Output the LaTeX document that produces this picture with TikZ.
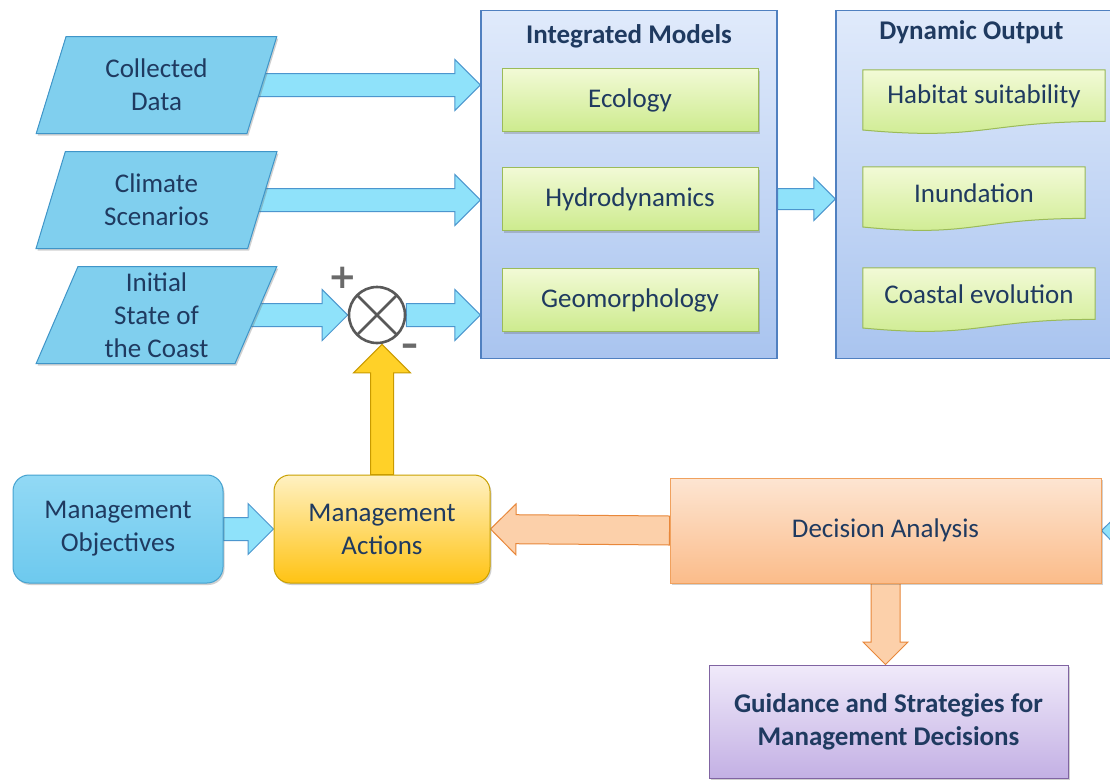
\documentclass[tikz,border=0pt]{standalone}
\usepackage{fontspec}
\setmainfont{Carlito}
\newfontfamily\symfont{DejaVu Sans}
\usepackage{tikz}
\usetikzlibrary{shapes.geometric,shapes.arrows,shadows,calc,positioning,backgrounds}
\definecolor{navy}{HTML}{1F3A60}
\definecolor{paraline}{HTML}{3F95C8}
\definecolor{parafill}{HTML}{80CFEE}
\definecolor{boxline}{HTML}{5080C0}
\definecolor{boxtop}{HTML}{E0EAFB}
\definecolor{boxbot}{HTML}{A9C4EF}
\definecolor{modline}{HTML}{9BBB59}
\definecolor{modtop}{HTML}{F2FAD6}
\definecolor{modbot}{HTML}{CDEB8E}
\definecolor{arrline}{HTML}{4C96CE}
\definecolor{arrfill}{HTML}{8FE2FA}
\definecolor{sumline}{HTML}{595959}
\definecolor{objline}{HTML}{45A2D0}
\definecolor{objtop}{HTML}{92D9F5}
\definecolor{objbot}{HTML}{6DC9EE}
\definecolor{actline}{HTML}{C9A000}
\definecolor{acttop}{HTML}{FFF1C2}
\definecolor{actbot}{HTML}{FFC313}
\definecolor{decline}{HTML}{F0A15E}
\definecolor{dectop}{HTML}{FDE5D2}
\definecolor{decbot}{HTML}{FBBC8A}
\definecolor{guidline}{HTML}{8064A2}
\definecolor{guidtop}{HTML}{F0EAFA}
\definecolor{guidbot}{HTML}{C3B0E4}
\definecolor{orline}{HTML}{E8873A}
\definecolor{orfill}{HTML}{FCD0AA}
\definecolor{yelline}{HTML}{C99A00}
\definecolor{yelfill}{HTML}{FFD128}
\definecolor{pmgray}{HTML}{6A6A6A}

% fat arrow from one point to another
\newcommand{\blockarrow}[3][]{%
  \path let \p1=#2, \p2=#3,
    \n1={atan2(\y2-\y1,\x2-\x1)}, \n2={veclen(\x2-\x1,\y2-\y1)} in
    node[fatarrow,#1,minimum height=\n2,anchor=tail,rotate=\n1] at (\p1) {};}

\begin{document}
\begin{tikzpicture}[x=1pt,y=-1pt,
    font=\fontsize{27}{33}\selectfont,
    every node/.style={text=navy,align=center},
    shadowed/.style={drop shadow={shadow xshift=1.5pt,shadow yshift=-2pt,opacity=.3,fill=black!60}},
    datain/.style={trapezium,trapezium left angle=72,trapezium right angle=108,
      trapezium stretches=true,minimum width=241pt,minimum height=97pt,inner sep=0pt,
      draw=paraline,line width=1pt,fill=parafill,shadowed},
    bigbox/.style={rectangle,draw=boxline,line width=1.2pt,top color=boxtop,bottom color=boxbot,
      minimum height=348pt,inner sep=0pt},
    model/.style={rectangle,draw=modline,line width=1pt,top color=modtop,bottom color=modbot,
      minimum width=256pt,minimum height=63pt,shadowed},
    wave/.style={rectangle,minimum height=64pt,inner sep=0pt},
    title/.style={font=\fontsize{27}{33}\selectfont\bfseries},
    sign/.style={text=pmgray,font=\symfont\fontsize{34}{34}\selectfont\bfseries},
    fatarrow/.style={single arrow,single arrow tip angle=90,single arrow head extend=14pt,
      inner sep=0pt,inner ysep=11pt,outer sep=0pt,line width=1pt},
    bluearrow/.style={draw=arrline,fill=arrfill},
    orangearrow/.style={draw=orline,fill=orfill,inner ysep=14pt,single arrow head extend=11pt},
    yellowarrow/.style={draw=yelline,fill=yelfill,single arrow head extend=17pt},
    block/.style={rectangle,line width=1pt,inner sep=0pt,shadowed}]

    \useasboundingbox (0,0) rectangle (1110,782);

    % inputs
    \node[datain] (data) at (156.5,85) {Collected\\Data};
    \node[datain] (climate) at (156.5,200) {Climate\\Scenarios};
    \node[datain] (initial) at (156.5,315) {Initial\\State of\\the Coast};

    % summing junction
    \node[circle,draw=sumline,line width=2.6pt,fill=white,minimum size=56pt,inner sep=0pt,
      path picture={\draw[sumline,line width=2.6pt]
        (path picture bounding box.north west) -- (path picture bounding box.south east)
        (path picture bounding box.north east) -- (path picture bounding box.south west);}]
      (sum) at (377,315) {};
    \node[sign] (plus) at ([xshift=-34pt,yshift=37pt]sum.center) {+};
    \node[sign] (minus) at ([xshift=33pt,yshift=-35pt]sum.center) {–};

    % model boxes
    \node[bigbox,minimum width=296pt] (models) at (629,184.5) {};
    \node[title] (modtitle) at ([yshift=-26pt]models.north) {Integrated Models};
    \node[model] (ecology) at (630,100) {Ecology};
    \node[model] (hydro) at (630,199) {Hydrodynamics};
    \node[model] (geo) at (630,300) {Geomorphology};

    \node[bigbox,minimum width=304pt] (dynout) at (988,184.5) {};
    \node[title] (dyntitle) at ([xshift=136pt,yshift=-22pt]dynout.north west) {Dynamic Output};
    \node[wave,minimum width=242pt] (habitat) at (984,102) {};
    \node[wave,minimum width=222pt] (inundation) at (974,199) {};
    \node[wave,minimum width=232pt] (coastal) at (979,300) {};
    \foreach \n/\t in {habitat/Habitat suitability,inundation/Inundation,coastal/Coastal evolution}
    {
      \fill[black,opacity=.3,xshift=1.5pt,yshift=-2pt] (\n.north west) -- (\n.north east)
        -- ([yshift=12.8pt]\n.south east) .. controls ([yshift=12.8pt]\n.south) and ([yshift=-6.8pt]\n.south)
        .. ([yshift=4.2pt]\n.south west) -- cycle;
      \shade[top color=modtop,bottom color=modbot,draw=modline,line width=1pt] (\n.north west) -- (\n.north east)
        -- ([yshift=12.8pt]\n.south east) .. controls ([yshift=12.8pt]\n.south) and ([yshift=-6.8pt]\n.south)
        .. ([yshift=4.2pt]\n.south west) -- cycle;
      \node at ([yshift=6pt]\n.center) {\t};
    }

    % management and decisions
    \node[block,rounded corners=16pt,draw=objline,top color=objtop,bottom color=objbot,
      minimum width=210pt,minimum height=108pt] (mobj) at (118,529) {Management\\Objectives};
    \node[block,rounded corners=16pt,draw=actline,top color=acttop,bottom color=actbot,
      minimum width=216pt,minimum height=108pt] (mact) at (382,529) {Management\\Actions};
    \node[block,draw=decline,top color=dectop,bottom color=decbot,
      minimum width=431pt,minimum height=105pt] (dec) at (885.5,530.5) {Decision Analysis};
    \node[block,draw=guidline,top color=guidtop,bottom color=guidbot,font=\fontsize{27}{33}\selectfont\bfseries,
      minimum width=359pt,minimum height=113pt] (guid) at (888.5,721.5) {Guidance and Strategies for\\Management Decisions};
    \coordinate (feedback) at (1180,532);

    % arrows
    \begin{scope}[on background layer]
      \fill[white] (0,0) rectangle (1110,782);
      \blockarrow[bluearrow]{([xshift=-15pt]data.east)}{(data.east -| models.west)}
      \blockarrow[bluearrow]{([xshift=-15pt]climate.east)}{(climate.east -| models.west)}
      \blockarrow[bluearrow]{([xshift=-15pt]initial.east)}{(sum.west)}
      \blockarrow[bluearrow]{(sum.east)}{(sum.east -| models.west)}
      \blockarrow[bluearrow,inner ysep=10pt,single arrow head extend=11pt]{(models.east |- hydro.center)}{(dynout.west |- hydro.center)}
      \blockarrow[bluearrow]{(mobj.east)}{(mact.west)}
      \blockarrow[bluearrow]{(feedback)}{(dec.east)}
      \blockarrow[yellowarrow]{(mact.north)}{(mact.north |- sum.south)}
      \blockarrow[orangearrow]{(dec.west)}{(mact.east)}
      \blockarrow[orangearrow,single arrow head extend=8pt]{(dec.south)}{(dec.south |- guid.north)}
    \end{scope}
\end{tikzpicture}
\end{document}
